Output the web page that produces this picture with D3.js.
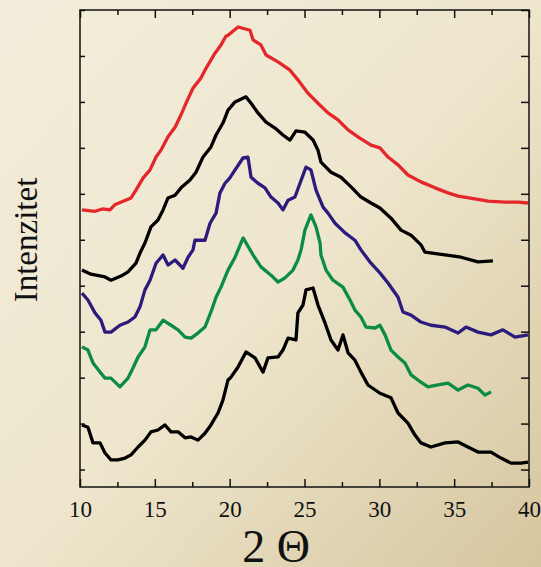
<!DOCTYPE html>
<html>
<head>
<meta charset="utf-8">
<script src="https://cdn.jsdelivr.net/npm/d3@7"></script>
<style>
  html, body { margin: 0; padding: 0; }
  svg { display: block; }
  text { font-family: "Liberation Serif", "Times New Roman", serif; fill: #111; }
</style>
</head>
<body>
<svg id="chart" width="541" height="567"></svg>
<script>
// 2 theta (deg) / intensity (a.u.), top curve first
var redCurve = [
  [10.13,565],[11.0,562],[11.5,567],[12.0,565],[12.32,576],[13.41,591],[13.74,608],[14.21,634],
  [14.68,652],[15.08,680],[15.41,695],[15.88,724],[16.35,745],[16.68,767],[17.08,797],[17.55,830],
  [18.08,852],[18.35,869],[19.02,906],[19.42,924],[19.75,943],[19.89,945],[20.56,963],[21.36,956],
  [21.56,935],[22.09,924],[22.43,902],[23.23,887],[24.03,869],[24.56,848],[25.23,819],[25.90,797],
  [26.57,776],[27.24,761],[27.91,739],[28.57,724],[29.44,706],[30.04,700],[30.58,680],[31.25,663],
  [31.91,641],[32.78,626],[33.72,613],[34.59,602],[35.26,595],[36.39,589],[37.26,584],[38.40,582],
  [39.26,582],[39.93,580]
];
var blackCurve1 = [
  [10.13,434],[10.73,425],[11.67,419],[12.07,412],[12.74,421],[13.21,430],[13.74,449],[14.01,471],
  [14.34,493],[14.74,528],[15.21,543],[15.55,565],[15.88,591],[16.35,597],[16.75,613],[17.35,630],
  [17.75,647],[18.22,680],[18.75,702],[19.09,728],[19.55,754],[19.89,782],[20.36,800],[21.09,811],
  [21.43,797],[21.89,776],[22.43,756],[23.03,743],[23.56,728],[24.03,717],[24.43,737],[25.03,734],
  [25.57,717],[25.90,695],[26.10,669],[26.77,647],[27.44,636],[28.11,615],[28.77,593],[29.44,580],
  [30.04,569],[30.78,547],[31.45,521],[32.12,510],[32.78,489],[33.05,473],[34.39,467],[35.46,462],
  [36.59,452],[37.59,454]
];
var navyCurve = [
  [10.13,384],[10.53,369],[11.00,341],[11.40,325],[11.67,299],[12.07,299],[12.67,314],[13.21,321],
  [13.67,332],[14.01,354],[14.34,391],[14.68,412],[15.08,449],[15.55,467],[15.88,445],[16.35,456],
  [16.88,438],[17.22,462],[17.55,478],[17.68,499],[18.35,499],[18.69,536],[19.09,558],[19.35,602],
  [19.69,623],[20.0,634],[20.36,652],[20.89,678],[21.22,680],[21.43,636],[21.89,623],[22.36,613],
  [22.76,593],[23.23,580],[23.56,565],[23.90,586],[24.36,593],[24.70,623],[25.10,658],[25.43,652],
  [25.77,608],[26.24,571],[26.57,558],[27.04,536],[27.71,515],[28.37,499],[28.77,478],[29.44,449],
  [30.04,428],[30.58,406],[31.25,375],[31.58,343],[32.12,336],[32.78,321],[33.45,314],[34.39,310],
  [35.26,297],[35.79,310],[36.59,299],[37.46,293],[38.26,304],[39.06,288],[39.93,293]
];
var greenCurve = [
  [10.13,267],[10.53,260],[10.87,232],[11.34,212],[11.67,199],[12.07,199],[12.67,180],[13.21,199],
  [13.54,221],[13.88,245],[14.34,267],[14.68,304],[15.08,304],[15.55,325],[16.08,314],[16.55,304],
  [17.02,288],[17.42,286],[17.88,297],[18.35,310],[18.75,343],[19.09,375],[19.42,397],[19.89,434],
  [20.36,462],[20.9,504],[21.56,467],[22.09,441],[22.76,423],[23.23,408],[23.70,417],[24.23,434],
  [24.56,456],[24.77,478],[25.03,521],[25.43,554],[25.77,528],[26.04,493],[26.10,467],[26.44,434],
  [26.90,412],[27.57,397],[28.04,369],[28.37,347],[28.77,332],[29.11,310],[29.71,308],[30.04,314],
  [30.38,293],[30.78,260],[31.25,245],[31.71,232],[32.12,206],[32.78,190],[33.25,180],[33.92,184],
  [34.59,188],[35.26,173],[35.92,184],[36.59,177],[37.06,162],[37.46,169]
];
var blackCurve2 = [
  [10.13,97],[10.53,92],[10.87,58],[11.34,58],[11.67,36],[12.07,21],[12.54,21],[13.01,25],
  [13.41,32],[13.88,49],[14.34,64],[14.74,82],[15.21,86],[15.68,97],[16.08,82],[16.55,82],
  [17.02,69],[17.42,71],[17.88,64],[18.35,79],[18.75,97],[19.22,123],[19.55,151],[19.89,195],
  [20.09,201],[20.56,223],[21.09,256],[21.69,243],[22.23,212],[22.56,243],[23.23,245],[23.56,260],
  [23.90,286],[24.43,282],[24.56,341],[24.90,358],[25.10,391],[25.57,395],[25.90,358],[26.37,319],
  [26.77,282],[27.24,260],[27.57,293],[27.91,254],[28.37,238],[28.77,212],[29.24,184],[30.04,166],
  [30.78,156],[31.25,123],[31.91,101],[32.38,75],[32.78,58],[33.45,49],[34.39,58],[35.26,60],
  [35.92,49],[36.59,38],[37.46,38],[38.13,25],[38.80,14],[39.46,14],[39.93,16]
];

var seriesData = [redCurve, blackCurve1, navyCurve, greenCurve, blackCurve2];
var seriesColors = ["#e3272b", "#000000", "#2b1b7d", "#0b8c44", "#000000"];

var xMajorTicks = [10, 15, 20, 25, 30, 35, 40];
var xAllTicks = d3.range(10, 40.01, 2.5);
var yTicks = d3.range(0, 1001, 100);

var svg = d3.select("#chart"),
    width = +svg.attr("width"),
    height = +svg.attr("height");

var margin = { left: 80, right: 12, top: 10, bottom: 80 };
var x = d3.scaleLinear().domain([10, 40]).range([margin.left, width - margin.right]);
var y = d3.scaleLinear().domain([-38, 1000]).range([height - margin.bottom, margin.top]);

// background
var defs = svg.append("defs");
var grad = defs.append("linearGradient")
    .attr("id", "bg").attr("x1", 0).attr("y1", 0).attr("x2", 1).attr("y2", 1);
grad.append("stop").attr("offset", "0%").attr("stop-color", "#f3eedc");
grad.append("stop").attr("offset", "50%").attr("stop-color", "#eee6cd");
grad.append("stop").attr("offset", "100%").attr("stop-color", "#d6c69f");
svg.append("rect").attr("width", width).attr("height", height).attr("fill", "url(#bg)");

// curves
var line = d3.line()
    .x(function(d) { return x(d[0]); })
    .y(function(d) { return y(d[1]); });

svg.append("g").selectAll("path")
  .data(seriesData)
  .enter().append("path")
    .attr("d", line)
    .attr("fill", "none")
    .attr("stroke", function(d, i) { return seriesColors[i]; })
    .attr("stroke-width", 3.3)
    .attr("stroke-linejoin", "round");

// axes, ticks pointing inwards
var isMajor = function(v) { return xMajorTicks.indexOf(v) >= 0; };

var bottomAxis = svg.append("g")
    .attr("transform", "translate(0," + y.range()[0] + ")")
    .call(d3.axisBottom(x).tickValues(xAllTicks).tickSize(-8).tickPadding(14)
      .tickFormat(function(d) { return isMajor(d) ? d : ""; }));
bottomAxis.selectAll(".tick line").attr("y2", function(d) { return isMajor(d) ? -8 : -5; });

var topAxis = svg.append("g")
    .attr("transform", "translate(0," + y.range()[1] + ")")
    .call(d3.axisTop(x).tickValues(xAllTicks).tickSize(-8).tickFormat(""));
topAxis.selectAll(".tick line").attr("y2", function(d) { return isMajor(d) ? 8 : 5; });

svg.append("g")
    .attr("transform", "translate(" + x.range()[0] + ",0)")
    .call(d3.axisLeft(y).tickValues(yTicks).tickSize(-5).tickFormat(""));

svg.append("g")
    .attr("transform", "translate(" + x.range()[1] + ",0)")
    .call(d3.axisRight(y).tickValues(yTicks).tickSize(-8).tickFormat(""));

svg.selectAll(".domain").remove();
svg.selectAll(".tick line").attr("stroke", "#111").attr("stroke-width", 1.5);
svg.selectAll(".tick text")
    .style("font-family", "'Liberation Serif', 'Times New Roman', serif")
    .style("font-size", "23px").attr("fill", "#111");

svg.append("rect")
    .attr("x", x.range()[0]).attr("y", y.range()[1])
    .attr("width", x.range()[1] - x.range()[0])
    .attr("height", y.range()[0] - y.range()[1])
    .attr("fill", "none").attr("stroke", "#111").attr("stroke-width", 1.5);

// labels
svg.append("text")
    .attr("x", 276).attr("y", 562)
    .attr("text-anchor", "middle")
    .style("font-size", "46px")
    .text("2 \u0398");

svg.append("text")
    .attr("transform", "translate(37,240) rotate(-90)")
    .attr("text-anchor", "middle")
    .style("font-size", "33px")
    .text("Intenzitet");
</script>
</body>
</html>
